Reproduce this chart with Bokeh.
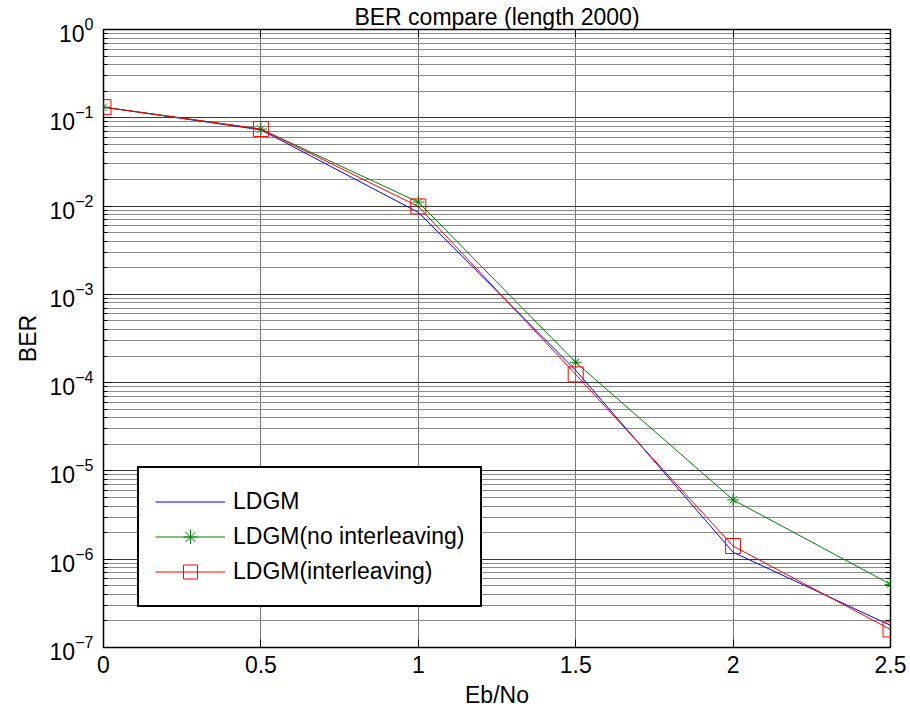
import math
from bokeh.plotting import figure
from bokeh.models import (Range1d, FixedTicker, LinearAxis, LogAxis, CustomJSTickFormatter,
                          LogTickFormatter, Legend, LegendItem)
from bokeh.embed import file_html
from bokeh.resources import INLINE

# ---------------- data ----------------
ebno = [0.0, 0.5, 1.0, 1.5, 2.0, 2.5]
ber_ldgm = [0.132, 0.073, 0.0085, 1.38e-4, 1.2e-6, 1.78e-7]
ber_no_interleaving = [0.132, 0.0745, 0.0111, 1.7e-4, 4.7e-6, 5.2e-7]
ber_interleaving = [0.132, 0.0745, 0.0099, 1.24e-4, 1.41e-6, 1.6e-7]

series_labels = ["LDGM", "LDGM(no interleaving)", "LDGM(interleaving)"]
x_ticks = [0.0, 0.5, 1.0, 1.5, 2.0, 2.5]
y_exponents = [0, -1, -2, -3, -4, -5, -6, -7]
title_text = "BER compare (length 2000)"
x_label = "Eb/No"
y_label = "BER"

FONT = "Liberation Sans"

y_major = [10.0 ** k for k in y_exponents]
y_minor = [m * 10.0 ** k for k in range(-7, 0) for m in range(2, 10)]

p = figure(width=910, height=713,
           x_range=Range1d(x_ticks[0], x_ticks[-1]),
           y_range=Range1d(min(y_major), max(y_major)),
           y_axis_type="log", output_backend="svg", toolbar_location=None,
           min_border_left=103, min_border_right=20, min_border_top=26, min_border_bottom=66)
p.background_fill_color = "white"
p.border_fill_color = "white"
p.outline_line_color = "black"
p.outline_line_alpha = 1.0
p.outline_line_width = 1.5

xt = FixedTicker(ticks=x_ticks, minor_ticks=[])
yt = FixedTicker(ticks=y_major, minor_ticks=y_minor)

# bottom axis
xa = p.xaxis[0]
xa.ticker = xt
xa.formatter = CustomJSTickFormatter(code="return tick.toString();")
xa.axis_line_color = None
xa.major_tick_in = 8
xa.major_tick_out = 0
xa.major_tick_line_color = "black"
xa.minor_tick_line_color = None
xa.major_label_text_font = FONT
xa.major_label_text_font_size = "23px"
xa.major_label_text_color = "black"
xa.major_label_standoff = 8
xa.axis_label = x_label
xa.axis_label_standoff = 6
xa.axis_label_text_font = FONT
xa.axis_label_text_font_size = "23px"
xa.axis_label_text_font_style = "normal"
xa.axis_label_text_color = "black"

# left axis (10 with superscript exponent)
ya = p.yaxis[0]
ya.ticker = yt
ya.formatter = LogTickFormatter(min_exponent=0)
ya.axis_line_color = None
ya.major_tick_in = 8
ya.major_tick_out = 0
ya.minor_tick_in = 4
ya.minor_tick_out = 0
ya.major_tick_line_color = "black"
ya.minor_tick_line_color = "black"
ya.major_label_text_font = FONT
ya.major_label_text_font_size = "23px"
ya.major_label_text_color = "black"
ya.major_label_standoff = 10
ya.axis_label = y_label
ya.axis_label_standoff = 6
ya.axis_label_text_font = FONT
ya.axis_label_text_font_size = "23px"
ya.axis_label_text_font_style = "normal"
ya.axis_label_text_color = "black"

# top axis: tick marks only, its axis label carries the chart title
top = LinearAxis(ticker=FixedTicker(ticks=[], minor_ticks=x_ticks),
                 axis_line_color=None, major_tick_line_color=None,
                 minor_tick_in=8, minor_tick_out=0, minor_tick_line_color="black",
                 axis_label=title_text, axis_label_standoff=0,
                 axis_label_text_font=FONT, axis_label_text_font_size="23px",
                 axis_label_text_font_style="normal", axis_label_text_color="black")
# right axis: tick marks only
right = LogAxis(ticker=FixedTicker(ticks=[], minor_ticks=y_major + y_minor),
                axis_line_color=None, major_tick_line_color=None,
                minor_tick_in=5, minor_tick_out=0, minor_tick_line_color="black")
p.add_layout(top, "above")
p.add_layout(right, "right")

# grids
p.xgrid.ticker = xt
p.xgrid.grid_line_color = "#777777"
p.xgrid.grid_line_width = 1
p.ygrid.ticker = yt
p.ygrid.grid_line_color = "#3a3a3a"
p.ygrid.grid_line_width = 1
p.ygrid.minor_grid_line_color = "#8a8a8a"
p.ygrid.minor_grid_line_width = 1

# series
l1 = p.line(ebno, ber_ldgm, line_color="#0000ff", line_width=1)
l2 = p.line(ebno, ber_no_interleaving, line_color="#008000", line_width=1)
s2a = p.scatter(ebno, ber_no_interleaving, marker="cross", size=12, line_color="#008000", line_width=1)
s2b = p.scatter(ebno, ber_no_interleaving, marker="x", size=10, line_color="#008000", line_width=1)
l3 = p.line(ebno, ber_interleaving, line_color="#ff0000", line_width=1)
s3 = p.scatter(ebno, ber_interleaving, marker="square", size=15, fill_color=None,
               line_color="#ff0000", line_width=1)

legend = Legend(items=[LegendItem(label=series_labels[0], renderers=[l1]),
                       LegendItem(label=series_labels[1], renderers=[l2, s2a, s2b]),
                       LegendItem(label=series_labels[2], renderers=[l3, s3])],
                location=(34, 40), margin=0, padding=16, spacing=0,
                glyph_width=70, glyph_height=35, label_height=35, label_standoff=8,
                label_text_font=FONT, label_text_font_size="23px", label_text_color="black",
                border_line_color="black", border_line_alpha=1.0, border_line_width=2,
                background_fill_color="white", background_fill_alpha=1.0)
p.add_layout(legend)

open("out.html", "w").write(file_html(p, INLINE))
